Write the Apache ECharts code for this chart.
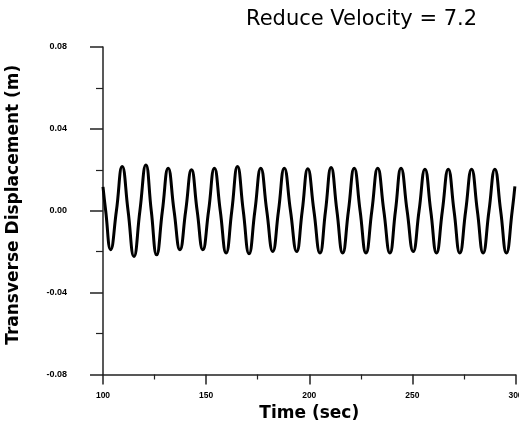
<!DOCTYPE html>
<html>
<head>
<meta charset="utf-8">
<script src="https://cdn.jsdelivr.net/npm/echarts@6/dist/echarts.min.js"></script>
<style>html,body{margin:0;padding:0;background:#fff}#c{width:519px;height:427px}</style>
</head>
<body>
<div id="c"></div>
<script>
// Time (sec) of extrema and zero crossings
var time = [100.0, 101.3, 103.7, 106.5, 109.3, 112.15, 115.0, 117.9, 120.8, 123.4,
  126.0, 128.8, 131.6, 134.45, 137.3, 140.1, 142.9, 145.65, 148.4, 151.2,
  154.0, 156.85, 159.7, 162.45, 165.2, 168.0, 170.8, 173.65, 176.5, 179.4,
  182.3, 185.1, 187.9, 190.9, 193.9, 196.6, 199.3, 202.25, 205.2, 207.9,
  210.6, 213.4, 216.2, 219.0, 221.8, 224.65, 227.5, 230.35, 233.2, 236.15,
  239.1, 241.8, 244.5, 247.45, 250.4, 253.25, 256.1, 258.9, 261.7, 264.55,
  267.4, 270.2, 273.0, 275.85, 278.7, 281.5, 284.3, 287.15, 290.0, 292.8,
  295.6, 298.4, 299.7];
// Transverse displacement (m)
var displacement = [0.0117, 0, -0.0190, 0, 0.0216, 0, -0.0223, 0, 0.0224, 0,
  -0.0215, 0, 0.0208, 0, -0.0190, 0, 0.0200, 0, -0.0190, 0,
  0.0208, 0, -0.0206, 0, 0.0216, 0, -0.0210, 0, 0.0208, 0,
  -0.0199, 0, 0.0208, 0, -0.0199, 0, 0.0205, 0, -0.0206, 0,
  0.0211, 0, -0.0206, 0, 0.0208, 0, -0.0206, 0, 0.0208, 0,
  -0.0206, 0, 0.0208, 0, -0.0199, 0, 0.0203, 0, -0.0206, 0,
  0.0203, 0, -0.0206, 0, 0.0203, 0, -0.0206, 0, 0.0203, 0,
  -0.0206, 0, 0.0119];
var xTickLabels = ['100', '150', '200', '250', '300'];
var yTickLabels = ['-0.08', '-0.04', '0.00', '0.04', '0.08'];

var data = time.map(function (t, i) { return [t, displacement[i]]; });

var chart = echarts.init(document.getElementById('c'));
chart.setOption({
  animation: false,
  backgroundColor: '#fff',
  title: {
    text: 'Reduce Velocity = 7.2',
    left: 241, top: 4,
    textStyle: { fontFamily: 'DejaVu Sans', fontSize: 21, fontWeight: 'normal', color: '#000' }
  },
  grid: { left: 103, right: 3.5, top: 47, bottom: 52.5, containLabel: false, outerBoundsMode: 'none' },
  xAxis: {
    type: 'value', min: 100, max: 300, interval: 50,
    name: 'Time (sec)', nameLocation: 'middle', nameGap: 26,
    nameTextStyle: { fontFamily: 'DejaVu Sans', fontSize: 17, fontWeight: 'bold', color: '#000' },
    axisLine: { show: true, onZero: false, lineStyle: { color: '#222', width: 1.5 } },
    axisTick: { show: true, inside: false, length: 10, lineStyle: { color: '#222', width: 1.5 } },
    minorTick: { show: true, splitNumber: 2, length: 5, lineStyle: { color: '#222', width: 1.2 } },
    splitLine: { show: false },
    axisLabel: {
      margin: 17, color: '#000', fontFamily: 'Liberation Sans', fontSize: 8.5, fontWeight: 'bold',
      formatter: function (v) { var i = Math.round((v - 100) / 50); return xTickLabels[i] || ''; }
    }
  },
  yAxis: {
    type: 'value', min: -0.08, max: 0.08, interval: 0.04,
    name: 'Transverse Displacement (m)', nameLocation: 'middle', nameGap: 81, nameRotate: 90,
    nameTextStyle: { fontFamily: 'DejaVu Sans', fontSize: 17, fontWeight: 'bold', color: '#000', padding: [0, 0, 0, 12] },
    axisLine: { show: true, onZero: false, lineStyle: { color: '#222', width: 1.5 } },
    axisTick: { show: true, inside: false, length: 13, lineStyle: { color: '#222', width: 1.5 } },
    minorTick: { show: true, splitNumber: 2, length: 7, lineStyle: { color: '#222', width: 1.2 } },
    splitLine: { show: false },
    axisLabel: {
      margin: 36, color: '#000', fontFamily: 'Liberation Sans', fontSize: 9, fontWeight: 'bold',
      formatter: function (v) { var i = Math.round((v + 0.08) / 0.04); return yTickLabels[i] || ''; }
    }
  },
  series: [{
    type: 'line', data: data, showSymbol: false, smooth: 0.5, clip: false,
    lineStyle: { color: '#000', width: 3 }
  }]
});
</script>
</body>
</html>
